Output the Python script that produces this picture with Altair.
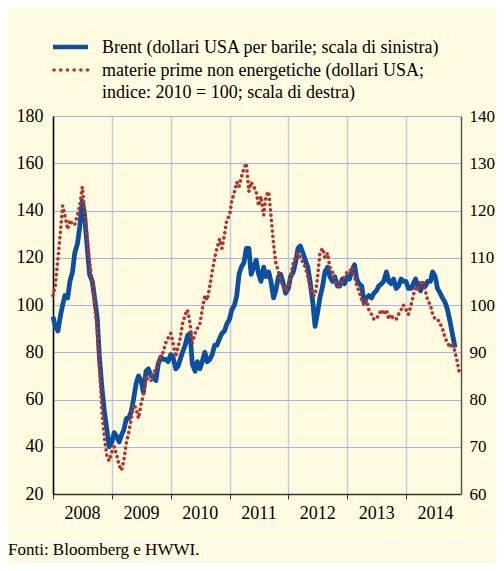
import altair as alt
import pandas as pd

# Brent (USD per barrel, left scale), semi-monthly readings (1st and 15th)
brent_2008 = [95, 91, 89, 95, 100, 104, 103, 110, 114, 122, 126, 133, 144, 138, 124, 113, 110, 103, 95, 78, 64, 55, 47, 40]
brent_2009 = [42, 46, 44, 42, 45, 47, 52, 52, 55, 60, 67, 70, 68, 63, 72, 73, 70, 70, 68, 75, 78, 77, 77, 76]
brent_2010 = [79, 78, 73, 74, 77, 80, 83, 87, 88, 75, 72, 76, 73, 76, 80, 76, 77, 79, 83, 83, 86, 88, 89, 92]
brent_2011 = [94, 98, 100, 104, 113, 116, 118, 124, 124, 113, 116, 119, 113, 110, 116, 112, 114, 110, 103, 106, 112, 113, 109, 105]
brent_2012 = [107, 112, 114, 118, 124, 125, 122, 119, 116, 110, 101, 91, 97, 103, 108, 114, 116, 112, 110, 112, 108, 108, 111, 109]
brent_2013 = [112, 111, 115, 117, 111, 109, 108, 101, 103, 104, 103, 105, 106, 108, 109, 110, 114, 110, 109, 111, 107, 108, 111, 110]
brent_2014 = [110, 107, 107, 109, 111, 108, 106, 109, 108, 110, 110, 114, 112, 107, 105, 103, 101, 98, 93, 88, 82]

# Non-energy commodities (USD; index 2010=100, right scale)
commod_2008 = [102, 104, 110, 115, 121, 119, 116, 118, 117, 117, 119, 121, 125, 120, 114, 109, 105, 100, 95, 87, 77, 72, 68, 67]
commod_2009 = [69, 70, 68, 66, 65, 67, 71, 73, 76, 79, 78, 76, 79, 81, 85, 84, 84, 86, 86, 88, 89, 90, 92, 93]
commod_2010 = [94, 92, 89, 91, 93, 96, 98, 99, 96, 92, 94, 95, 96, 99, 102, 101, 104, 107, 110, 112, 114, 112, 115, 118]
commod_2011 = [119, 122, 124, 126, 125, 127, 129, 130, 124, 126, 125, 124, 121, 123, 119, 123, 124, 119, 113, 109, 107, 105, 104, 103]
commod_2012 = [104, 106, 109, 110, 111, 110, 109, 108, 106, 104, 102, 102, 106, 111, 112, 110, 111, 108, 107, 105, 104, 104, 105, 106]
commod_2013 = [107, 107, 108, 106, 104, 103, 101, 100, 101, 99, 98, 97, 97, 98, 99, 98, 99, 97, 98, 97, 97, 98, 99, 100]
commod_2014 = [99, 98, 100, 102, 104, 103, 105, 105, 103, 101, 100, 98, 97, 97, 96, 95, 93, 92, 91, 92, 90, 88, 85]

years = [2008, 2009, 2010, 2011, 2012, 2013, 2014]
left_ticks = [20, 40, 60, 80, 100, 120, 140, 160, 180]
right_ticks = [60, 70, 80, 90, 100, 110, 120, 130, 140]

legend_brent = "Brent (dollari USA per barile; scala di sinistra)"
legend_comm_1 = "materie prime non energetiche (dollari USA;"
legend_comm_2 = "indice: 2010 = 100; scala di destra)"
source_text = "Fonti: Bloomberg e HWWI."


def semi_monthly(year_list, series):
    dates, vals = [], []
    for y, vs in zip(year_list, series):
        slots = [f"{y}-{m:02d}-{d:02d}" for m in range(1, 13) for d in (1, 15)]
        dates += slots[:len(vs)]
        vals += vs
    return dates, vals


bd, bv = semi_monthly(years, [brent_2008, brent_2009, brent_2010, brent_2011, brent_2012, brent_2013, brent_2014])
cd, cv = semi_monthly(years, [commod_2008, commod_2009, commod_2010, commod_2011, commod_2012, commod_2013, commod_2014])
brent_df = pd.DataFrame({"date": bd, "value": bv})
comm_df = pd.DataFrame({"date": cd, "value": cv})

BLUE = "#0B4F9E"
RED = "#B3342C"
FONT = "Liberation Serif"

xscale = alt.Scale(domain=[alt.DateTime(year=2008, month=1, date=1), alt.DateTime(year=2014, month=12, date=8)])
xaxis = alt.Axis(
    values=[alt.DateTime(year=y, month=1, date=1) for y in years],
    format="%Y", title=None, labelOffset=29, tickSize=5, tickColor="#333333",
    labelPadding=5, grid=True, gridColor="#C5C9DE", gridWidth=1.5,
    domainColor="#333333", domainWidth=1.5,
    labelFont=FONT, labelFontSize=18, labelColor="black", labelFlush=False,
)

brent = alt.Chart(brent_df).mark_line(color=BLUE, strokeWidth=4.8, strokeJoin="round").encode(
    x=alt.X("date:T", scale=xscale, axis=xaxis),
    y=alt.Y("value:Q", scale=alt.Scale(domain=[20, 180], nice=False),
            axis=alt.Axis(orient="left", values=left_ticks, title=None, ticks=False,
                          labelPadding=10, grid=True, gridColor="#A8B4E4", gridWidth=1.2,
                          domainColor="black", domainWidth=1.5,
                          labelFont=FONT, labelFontSize=18, labelColor="black")),
)

comm = alt.Chart(comm_df).mark_line(color=RED, strokeWidth=3.6, strokeDash=[0.1, 5.2], strokeCap="round").encode(
    x=alt.X("date:T", scale=xscale, axis=xaxis),
    y=alt.Y("value:Q", scale=alt.Scale(domain=[60, 140], nice=False),
            axis=alt.Axis(orient="right", values=right_ticks, title=None, ticks=False,
                          labelPadding=8, grid=False, domainColor="#555555", domainWidth=1.5,
                          labelFont=FONT, labelFontSize=17, labelColor="black")),
)

one = pd.DataFrame({"a": [0]})
leg_line = alt.Chart(one).mark_rule(color=BLUE, strokeWidth=4.5).encode(
    x=alt.value(0), x2=alt.value(35), y=alt.value(-69))
leg_dots = alt.Chart(one).mark_rule(color=RED, strokeWidth=3.6, strokeDash=[0.1, 6.6], strokeCap="round").encode(
    x=alt.value(1), x2=alt.value(36), y=alt.value(-46))


def txt(s, x, y):
    return alt.Chart(one).mark_text(align="left", baseline="middle", font=FONT, fontSize=18, color="black").encode(
        x=alt.value(x), y=alt.value(y), text=alt.value(s))


t1 = txt(legend_brent, 49, -68)
t2 = txt(legend_comm_1, 49, -45)
t3 = txt(legend_comm_2, 49, -23)
sep = alt.Chart(one).mark_rule(color="white", strokeWidth=2).encode(
    x=alt.value(-45), x2=alt.value(443), y=alt.value(423))
src = alt.Chart(one).mark_text(align="left", baseline="alphabetic", font=FONT, fontSize=17, color="black").encode(
    x=alt.value(-45), y=alt.value(439), text=alt.value(source_text))

chart = alt.layer(brent, comm, leg_line, leg_dots, t1, t2, t3, sep, src).resolve_scale(
    y="independent"
).properties(
    width=408, height=378,
    autosize=alt.AutoSizeParams(type="none"),
    padding={"left": 45, "top": 108, "right": 35, "bottom": 69},
    background="#FFFBE1",
).configure_view(stroke=None)

chart.save("out.html", embed_options={"renderer": "svg", "actions": False})
